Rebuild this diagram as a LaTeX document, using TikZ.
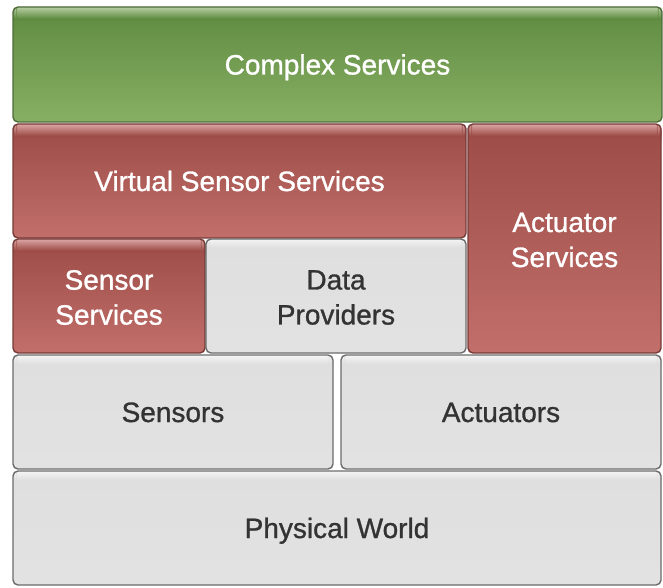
\documentclass[tikz,border=0pt]{standalone}
\usepackage{fontspec}
\setmainfont{Liberation Sans}
\newfontfamily\boxfont{Liberation Sans}[FakeBold=1]
\definecolor{gtop}{HTML}{5E8A40}
\definecolor{gbot}{HTML}{88B064}
\definecolor{ghi}{HTML}{B8CFA4}
\definecolor{gline}{HTML}{4D6B3A}
\definecolor{rtop}{HTML}{9C4B46}
\definecolor{rbot}{HTML}{C26F6C}
\definecolor{rhi}{HTML}{DCA8A6}
\definecolor{rline}{HTML}{763A37}
\definecolor{ktop}{HTML}{DFDFDF}
\definecolor{kbot}{HTML}{E2E2E2}
\definecolor{khi}{HTML}{F5F5F5}
\definecolor{kline}{HTML}{6B6B6B}
\definecolor{ktext}{HTML}{333333}
\tikzset{
  layer/.style={rounded corners=5pt, line width=1.4pt, inner sep=0pt},
  hilite/.style n args={3}{path picture={
      \foreach \i [evaluate=\i as \p using {100-\i*100/#3}] in {0,...,#3} {
        \fill[#1!\p!#2] ([yshift=-\i*1pt]path picture bounding box.north west)
          rectangle ([yshift=-\i*1pt-1.1pt]path picture bounding box.north east);}}},
  greenbox/.style={layer, draw=gline, top color=gtop, bottom color=gbot, hilite={ghi}{gtop}{12}},
  redbox/.style={layer, draw=rline, top color=rtop, bottom color=rbot, hilite={rhi}{rtop}{12}},
  graybox/.style={layer, draw=kline, top color=ktop, bottom color=kbot, hilite={khi}{ktop}{9}},
  txt/.style={inner sep=0pt, align=center, font=\boxfont\fontsize{28}{35}\selectfont},
  one/.style={txt, text height=20pt, text depth=0pt},
  two/.style={txt, yshift=-1.5pt},
}
\begin{document}
\begin{tikzpicture}[x=1pt,y=1pt]
\useasboundingbox (0,0) rectangle (663,587);
\node[greenbox, minimum width=649pt, minimum height=115pt,
  label={[one, text=white]center:Complex Services}] (complex) at (337.5,522.5) {};
\node[redbox, minimum width=453pt, minimum height=114pt,
  label={[one, text=white]center:Virtual Sensor Services}] (virtual) at (239.5,406) {};
\node[redbox, minimum width=193pt, minimum height=229pt,
  label={[two, text=white]center:Actuator\\Services}] (actserv) at (564.5,348.5) {};
\node[redbox, minimum width=192pt, minimum height=114pt,
  label={[two, text=white]center:Sensor\\Services}] (sensserv) at (109,291) {};
\node[graybox, minimum width=260pt, minimum height=114pt,
  label={[two, text=ktext]center:Data\\Providers}] (data) at (336,291) {};
\node[graybox, minimum width=320pt, minimum height=114pt,
  label={[one, text=ktext]center:Sensors}] (sensors) at (173,175) {};
\node[graybox, minimum width=320pt, minimum height=114pt,
  label={[one, text=ktext]center:Actuators}] (actuators) at (501,175) {};
\node[graybox, minimum width=648pt, minimum height=114pt,
  label={[one, text=ktext]center:Physical World}] (world) at (337,59) {};
\end{tikzpicture}
\end{document}
